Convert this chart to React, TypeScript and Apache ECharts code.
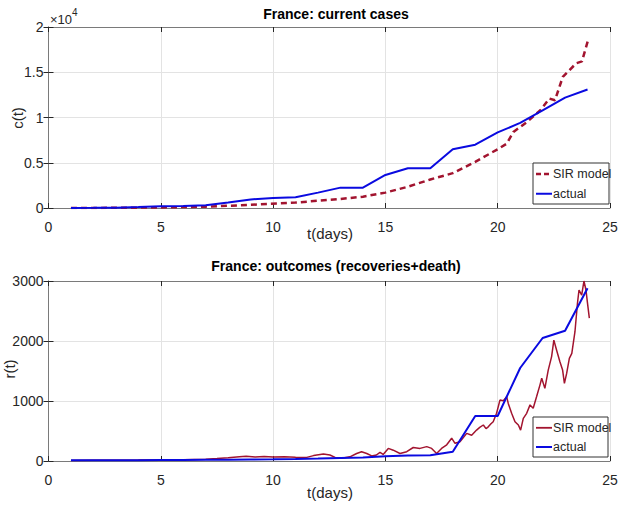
import React, { useEffect, useRef } from "react";
import * as echarts from "echarts";

// ---- data ----
// top panel: current cases
const actualCasesDays = [1, 2, 3, 4, 5, 6, 7, 8, 9, 10, 11, 12, 13, 14, 15, 16, 17, 18, 19, 20, 21, 22, 23, 24];
const actualCases = [10, 20, 40, 100, 190, 230, 300, 600, 950, 1100, 1180, 1700, 2250, 2250, 3650, 4400, 4400, 6500, 7000, 8350, 9400, 10800, 12200, 13100];

const sirCasesDays = [1, 3, 5, 7, 9, 11, 12, 13, 14, 15, 16, 17, 18, 19, 20, 20.4, 20.7, 21.3, 21.9, 22.3, 22.55, 22.9, 23.5, 23.75, 24.03];
const sirCases = [0, 20, 60, 150, 350, 600, 800, 1000, 1250, 1700, 2350, 3150, 3850, 5100, 6500, 7100, 8400, 9500, 10800, 12100, 11900, 14500, 16000, 16200, 18600];

// bottom panel: outcomes
const actualOutDays = [1, 2, 3, 4, 5, 6, 7, 8, 9, 10, 11, 12, 13, 14, 15, 16, 17, 18, 19, 20, 21, 22, 23, 24];
const actualOut = [12, 12, 12, 12, 15, 18, 20, 22, 25, 28, 32, 40, 50, 60, 80, 90, 95, 155, 750, 750, 1550, 2050, 2170, 2880];

const sirOutDays = [1, 2, 3, 4, 5, 6, 7, 7.5, 8, 8.5, 8.8, 9.2, 9.6, 10, 10.5, 11, 11.5, 11.8, 12.24, 12.53, 12.76, 13.05, 13.42, 13.72, 13.94, 14.17, 14.39, 14.6, 14.76, 14.9, 15.13, 15.35, 15.65, 15.95, 16.24, 16.54, 16.84, 17.06, 17.28, 17.5, 17.73, 17.95, 18.1, 18.32, 18.62, 18.84, 19.06, 19.2, 19.36, 19.48, 19.58, 19.7, 19.8, 19.95, 20.1, 20.25, 20.4, 20.47, 20.62, 20.77, 20.92, 21.02, 21.14, 21.29, 21.44, 21.58, 21.73, 21.88, 21.96, 22.1, 22.25, 22.4, 22.5, 22.62, 22.77, 22.89, 22.97, 23.07, 23.19, 23.3, 23.44, 23.55, 23.62, 23.74, 23.84, 23.93, 23.99, 24.08];
const sirOut = [10, 12, 14, 15, 18, 20, 28, 40, 55, 72, 80, 68, 74, 65, 70, 62, 60, 90, 115, 100, 60, 45, 70, 125, 155, 125, 85, 100, 145, 110, 210, 180, 125, 155, 225, 210, 240, 210, 125, 210, 270, 380, 295, 320, 460, 430, 515, 560, 600, 540, 570, 620, 655, 795, 1015, 1005, 1070, 960, 795, 655, 600, 515, 710, 795, 935, 880, 1070, 1265, 1380, 1210, 1515, 1740, 2015, 1850, 1655, 1515, 1295, 1460, 1710, 1795, 2155, 2625, 2850, 2765, 3000, 2850, 2655, 2380];

const FONT = '"Liberation Sans", Arial, Helvetica, sans-serif';
const RED = "#A2142F";
const BLUE = "#0a0ae0";
const BOX = "#7a7a7a";
const TXT = "#262626";

const zip = (xs: number[], ys: number[]) => xs.map((x, i) => [x, ys[i]]);

function legendGraphic(x: number, y: number, w: number, h: number, redDash: boolean) {
  const r1 = y + h * 0.27;
  const r2 = y + h * 0.75;
  return {
    type: "group",
    children: [
      { type: "rect", shape: { x, y, width: w, height: h }, style: { fill: "#fff", stroke: "#333", lineWidth: 1 }, z: 100 },
      {
        type: "line",
        shape: { x1: x + 3, y1: r1, x2: x + 19, y2: r1 },
        style: { stroke: RED, lineWidth: redDash ? 2.5 : 1.8, lineDash: redDash ? [5, 3] : null },
        z: 101,
      },
      {
        type: "text",
        x: x + 20,
        y: r1,
        style: { text: "SIR model", fontSize: 12.5, fontFamily: FONT, fill: TXT, verticalAlign: "middle", align: "left" },
        z: 101,
      },
      {
        type: "line",
        shape: { x1: x + 3, y1: r2, x2: x + 19, y2: r2 },
        style: { stroke: BLUE, lineWidth: 2 },
        z: 101,
      },
      {
        type: "text",
        x: x + 20,
        y: r2,
        style: { text: "actual", fontSize: 12.5, fontFamily: FONT, fill: TXT, verticalAlign: "middle", align: "left" },
        z: 101,
      },
    ],
  };
}

function axisName(text: string, x: number, y: number, vertical: boolean) {
  return {
    type: "text",
    x,
    y,
    rotation: vertical ? Math.PI / 2 : 0,
    style: { text, fontSize: 15, fontFamily: FONT, fill: TXT, align: "center", verticalAlign: "middle" },
  };
}

export default function App() {
  const ref = useRef<HTMLDivElement>(null);
  useEffect(() => {
    if (!ref.current) return;
    const chart = echarts.init(ref.current, null, { renderer: "svg" });

    const grids = [
      { left: 48.5, right: 9, top: 27, height: 181, containLabel: false, outerBoundsMode: "none" },
      { left: 48.5, right: 9, top: 281, height: 180, containLabel: false, outerBoundsMode: "none" },
    ];

    const xBase = (gi: number) => ({
      type: "value",
      gridIndex: gi,
      min: 0,
      max: 25,
      interval: 5,
      position: "bottom",
      axisLine: { show: true, onZero: false, lineStyle: { color: BOX, width: 1 } },
      axisTick: { show: true, inside: true, length: 5, lineStyle: { color: TXT } },
      axisLabel: { color: TXT, fontSize: 14, fontFamily: FONT, margin: 12 },
      splitLine: { show: true, lineStyle: { color: "#e3e3e3", width: 1 } },
    });
    const xTop = (gi: number) => ({
      type: "value",
      gridIndex: gi,
      min: 0,
      max: 25,
      interval: 5,
      position: "top",
      axisLine: { show: true, onZero: false, lineStyle: { color: BOX, width: 1 } },
      axisTick: { show: true, inside: true, length: 5, lineStyle: { color: TXT } },
      axisLabel: { show: false },
      splitLine: { show: false },
    });
    const yRight = (gi: number, max: number, interval: number) => ({
      type: "value",
      gridIndex: gi,
      position: "right",
      min: 0,
      max,
      interval,
      axisLine: { show: true, lineStyle: { color: BOX } },
      axisTick: { show: true, inside: true, length: 5, lineStyle: { color: TXT } },
      axisLabel: { show: false },
      splitLine: { show: false },
    });

    const option: any = {
      animation: false,
      backgroundColor: "#ffffff",
      grid: grids,
      title: [
        {
          text: "France: current cases",
          left: 331,
          top: 2,
          textAlign: "center",
          textStyle: { fontSize: 14, fontWeight: "bold", color: "#000", fontFamily: FONT },
        },
        {
          text: "France: outcomes (recoveries+death)",
          left: 331,
          top: 254,
          textAlign: "center",
          textStyle: { fontSize: 14, fontWeight: "bold", color: "#000", fontFamily: FONT },
        },
      ],
      graphic: [
        {
          type: "text",
          x: 50,
          y: 19,
          style: { text: "×10", fontSize: 13, fontFamily: FONT, fill: TXT, verticalAlign: "middle", align: "left" },
        },
        {
          type: "text",
          x: 72,
          y: 12,
          style: { text: "4", fontSize: 10, fontFamily: FONT, fill: TXT, verticalAlign: "middle", align: "left" },
        },
        axisName("c(t)", 17, 118, true),
        axisName("t(days)", 330, 233, false),
        axisName("r(t)", 9, 369, true),
        axisName("t(days)", 330, 492, false),
        legendGraphic(533, 163, 76, 41, true),
        legendGraphic(533, 417, 75, 40, false),
      ],
      xAxis: [xBase(0), xTop(0), xBase(1), xTop(1)],
      yAxis: [
        {
          type: "value",
          gridIndex: 0,
          min: 0,
          max: 20000,
          interval: 5000,
          axisLine: { show: true, lineStyle: { color: BOX } },
          axisTick: { show: true, inside: true, length: 5, lineStyle: { color: TXT } },
          axisLabel: {
            color: TXT,
            fontSize: 14,
            fontFamily: FONT,
            margin: 5,
            formatter: (v: number) => String(v / 10000),
          },
          splitLine: { show: true, lineStyle: { color: "#e3e3e3" } },
        },
        yRight(0, 20000, 5000),
        {
          type: "value",
          gridIndex: 1,
          min: 0,
          max: 3000,
          interval: 1000,
          axisLine: { show: true, lineStyle: { color: BOX } },
          axisTick: { show: true, inside: true, length: 5, lineStyle: { color: TXT } },
          axisLabel: { color: TXT, fontSize: 14, fontFamily: FONT, margin: 5, formatter: (v: number) => String(v) },
          splitLine: { show: true, lineStyle: { color: "#e3e3e3" } },
        },
        yRight(1, 3000, 1000),
      ],
      series: [
        {
          name: "SIR model",
          type: "line",
          xAxisIndex: 0,
          yAxisIndex: 0,
          data: zip(sirCasesDays, sirCases),
          showSymbol: false,
          symbol: "none",
          lineStyle: { color: RED, width: 2.5, type: [6, 4] },
          itemStyle: { color: RED },
          z: 3,
        },
        {
          name: "actual",
          type: "line",
          xAxisIndex: 0,
          yAxisIndex: 0,
          data: zip(actualCasesDays, actualCases),
          showSymbol: false,
          symbol: "none",
          lineStyle: { color: BLUE, width: 2 },
          itemStyle: { color: BLUE },
          z: 4,
        },
        {
          name: "SIR model ",
          type: "line",
          xAxisIndex: 2,
          yAxisIndex: 2,
          data: zip(sirOutDays, sirOut),
          showSymbol: false,
          symbol: "none",
          lineStyle: { color: RED, width: 1.5 },
          itemStyle: { color: RED },
          z: 3,
        },
        {
          name: "actual ",
          type: "line",
          xAxisIndex: 2,
          yAxisIndex: 2,
          data: zip(actualOutDays, actualOut),
          showSymbol: false,
          symbol: "none",
          lineStyle: { color: BLUE, width: 2 },
          itemStyle: { color: BLUE },
          z: 4,
        },
      ],
    };
    chart.setOption(option);
    return () => chart.dispose();
  }, []);

  return (
    <div
      ref={ref}
      style={{ position: "absolute", left: 0, top: 0, width: 619, height: 508, background: "#fff" }}
    />
  );
}
